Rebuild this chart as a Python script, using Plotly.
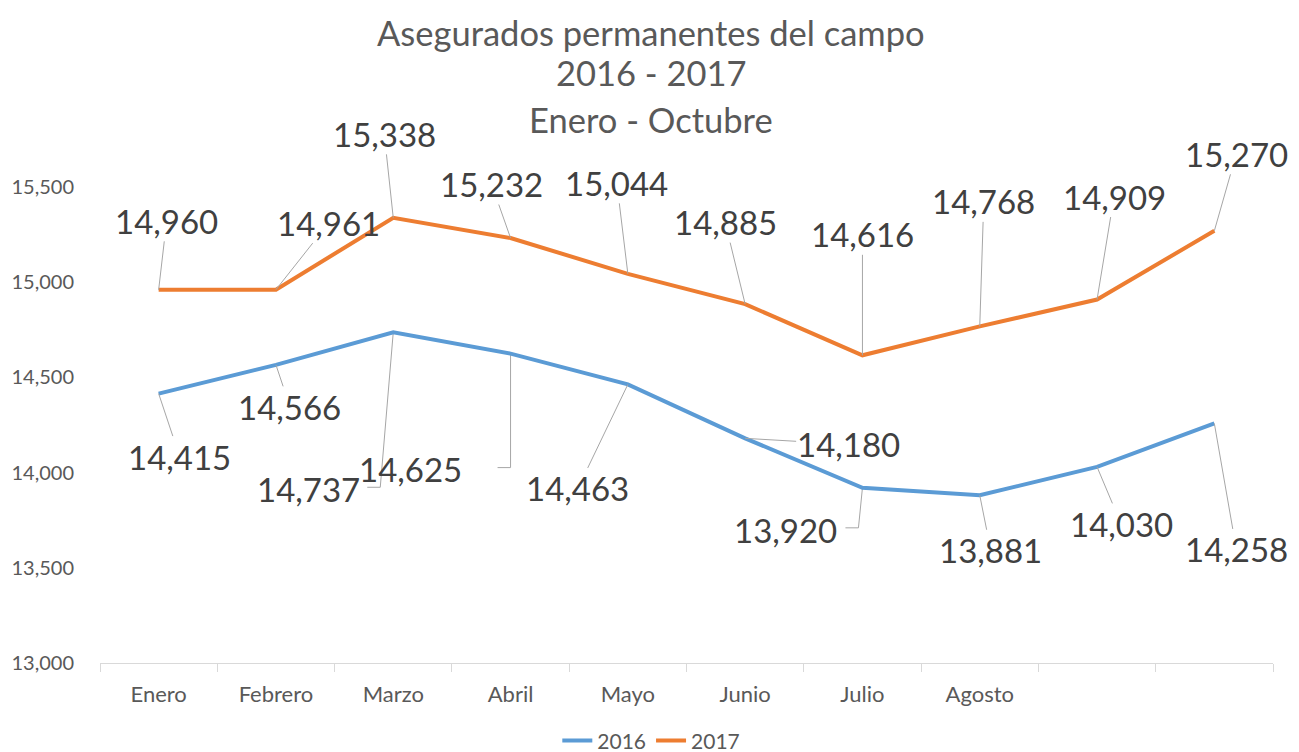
import plotly.graph_objects as go

months = ["Enero", "Febrero", "Marzo", "Abril", "Mayo", "Junio", "Julio", "Agosto", " ", "  "]
v2016 = [14415, 14566, 14737, 14625, 14463, 14180, 13920, 13881, 14030, 14258]
v2017 = [14960, 14961, 15338, 15232, 15044, 14885, 14616, 14768, 14909, 15270]
y_ticks = [13000, 13500, 14000, 14500, 15000, 15500]

# label offsets (pixels) for data labels with leader lines
off2016 = [(21, 63), (14, 42), (-85, 157), (-100, 115), (-50, 104), (103, 6), (-77, 42), (11, 55), (24, 57), (22, 126)]
off2017 = [(8, -69), (53, -67), (-9, -84), (-19, -54), (-11, -91), (-20, -82), (0, -121), (4, -125), (17, -103), (22, -77)]
# elbow-shaped leader lines (pixel paths relative to the point) for some 2016 labels
elbow2016 = {2: "M0,0 L-13,-155 L-26,-155", 3: "M0,0 L0,-114 L-13,-114", 6: "M0,0 L-4,-40 L-17,-40"}

BLUE = "#5B9BD5"
ORANGE = "#ED7D31"
GRAY = "#595959"
LEADER = "#A6A6A6"
FONT = "Lato"

fig = go.Figure()
fig.add_trace(go.Scatter(x=months, y=v2016, mode="lines", name="2016",
                         line=dict(color=BLUE, width=4), hoverinfo="skip"))
fig.add_trace(go.Scatter(x=months, y=v2017, mode="lines", name="2017",
                         line=dict(color=ORANGE, width=4), hoverinfo="skip"))

annotations = []
shapes = []
for vals, offs, elbows in ((v2016, off2016, elbow2016), (v2017, off2017, {})):
    for i, (m, v, (ax, ay)) in enumerate(zip(months, vals, offs)):
        lab_font = dict(family=FONT, size=33, color="#404040")
        if i in elbows:
            annotations.append(dict(x=m, y=v, xref="x", yref="y", text=f"{v:,}",
                                    showarrow=False, xshift=ax, yshift=-ay,
                                    xanchor="center", yanchor="middle", font=lab_font))
            shapes.append(dict(type="path", xref="x", yref="y", xsizemode="pixel",
                               ysizemode="pixel", xanchor=i, yanchor=v, path=elbows[i],
                               line=dict(color=LEADER, width=1), layer="below"))
        else:
            annotations.append(dict(
                x=m, y=v, xref="x", yref="y", text=f"{v:,}",
                showarrow=True, arrowhead=0, arrowwidth=1, arrowcolor=LEADER,
                ax=ax, ay=ay, standoff=0, borderpad=0, font=lab_font))

titles = [("Asegurados permanentes del campo", 1.3256), ("2016 - 2017", 1.2395), ("Enero - Octubre", 1.1408)]
for t, yy in titles:
    annotations.append(dict(text=t, x=0.47, y=yy, xref="paper", yref="paper",
                            xanchor="center", yanchor="middle", showarrow=False,
                            font=dict(family=FONT, size=34.5, color=GRAY)))

fig.update_layout(
    width=1299, height=752,
    margin=dict(l=92, r=34, t=179, b=97, autoexpand=False),
    paper_bgcolor="white", plot_bgcolor="white",
    font=dict(family=FONT, color=GRAY),
    showlegend=True,
    legend=dict(orientation="h", x=0.47, xanchor="center", yref="container", y=0.0253,
                yanchor="middle", font=dict(family=FONT, size=21, color=GRAY), itemwidth=30),
    annotations=annotations,
    shapes=shapes,
    xaxis=dict(type="category", categoryorder="array", categoryarray=months,
               range=[-0.5, 9.5], tickson="boundaries", ticks="outside", ticklen=8,
               tickcolor="#D9D9D9", showline=True, linecolor="#D9D9D9", linewidth=1,
               showgrid=False, zeroline=False, ticklabelstandoff=12, automargin=False,
               tickfont=dict(family=FONT, size=22, color=GRAY)),
    yaxis=dict(range=[13000, 15500], tickvals=y_ticks, ticktext=[f"{t:,}" for t in y_ticks],
               showgrid=False, zeroline=False, showline=False, ticks="",
               ticklabelstandoff=25, automargin=False,
               tickfont=dict(family=FONT, size=20, color=GRAY)),
)

fig.write_html("out.html")
